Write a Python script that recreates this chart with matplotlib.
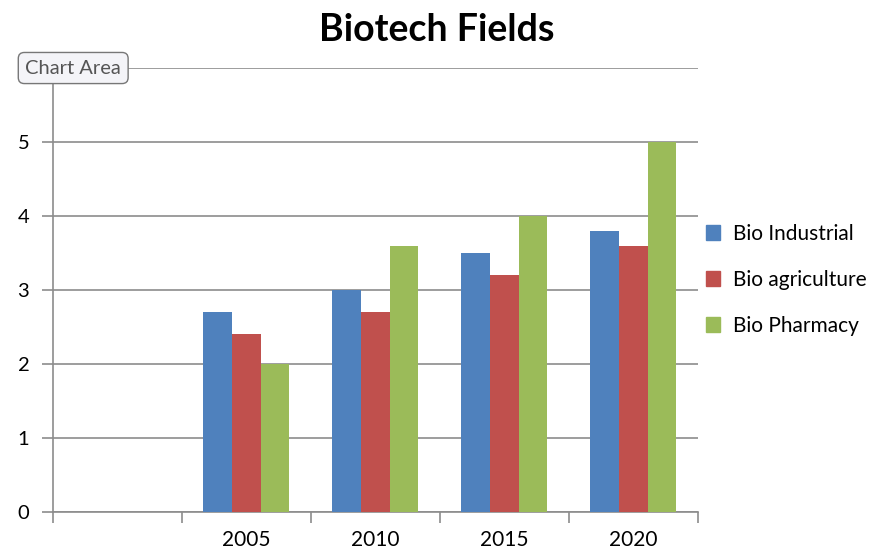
import numpy as np
import matplotlib.pyplot as plt
from matplotlib.patches import Patch

plt.rcParams['font.family'] = ['Lato', 'DejaVu Sans']

# Data
categories = ['', '2005', '2010', '2015', '2020']
series_names = ['Bio Industrial', 'Bio agriculture', 'Bio Pharmacy']
bio_industrial = [np.nan, 2.7, 3.0, 3.5, 3.8]
bio_agriculture = [np.nan, 2.4, 2.7, 3.2, 3.6]
bio_pharmacy = [np.nan, 2.0, 3.6, 4.0, 5.0]
colors = ['#4F81BD', '#C0504D', '#9BBB59']

fig = plt.figure(figsize=(8.82, 5.53), dpi=100)
ax = fig.add_axes([0.060, 0.074, 0.731, 0.803])

x = np.arange(len(categories))
w = 0.222
for i, vals in enumerate([bio_industrial, bio_agriculture, bio_pharmacy]):
    ax.bar(x + (i - 1) * w, vals, width=w, color=colors[i], zorder=3)

ax.set_xlim(-0.5, len(categories) - 0.5)
ax.set_ylim(0, 6)

# gridlines
ax.set_yticks(range(0, 7))
ax.set_yticklabels(['0', '1', '2', '3', '4', '5', ''])
ax.yaxis.grid(True, color='#8c8c8c', linewidth=1.2, zorder=0)
ax.tick_params(axis='y', length=8, width=1.2, color='#8c8c8c', labelsize=14.5, pad=9)

# category labels at centers, tick marks at boundaries
ax.set_xticks(x)
ax.set_xticklabels(categories, fontsize=15)
ax.tick_params(axis='x', which='major', length=0, pad=13)
ax.set_xticks(np.arange(-0.5, len(categories)), minor=True)
ax.tick_params(axis='x', which='minor', length=8, width=1.2, color='#8c8c8c')

for s in ['top', 'right']:
    ax.spines[s].set_visible(False)
for s in ['left', 'bottom']:
    ax.spines[s].set_color('#8c8c8c')
    ax.spines[s].set_linewidth(1.2)

fig.text(0.495, 0.946, 'Biotech Fields', fontsize=27, fontweight='bold', ha='center', va='center')

handles = [Patch(color=c) for c in colors]
fig.legend(handles, series_names, loc='upper left', bbox_to_anchor=(0.800, 0.595),
           frameon=False, fontsize=15, handlelength=0.7, handleheight=0.7,
           handletextpad=0.6, labelspacing=1.25, borderpad=0, borderaxespad=0)

# "Chart Area" tooltip
fig.text(0.083, 0.877, 'Chart Area', fontsize=14.5, color='#555555', ha='center', va='center',
         bbox=dict(boxstyle='round,pad=0.35,rounding_size=0.3', fc='#f4f4f8', ec='#777777', lw=1))

fig.savefig('out.png', dpi=100)
